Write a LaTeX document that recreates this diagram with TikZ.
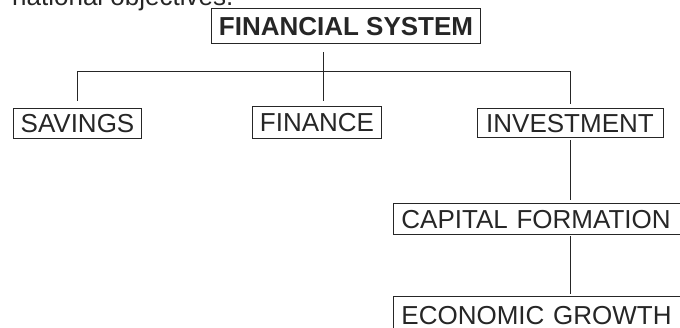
\documentclass[tikz,border=0pt]{standalone}
\usepackage{fontspec}
\setmainfont{Liberation Sans}
\usepackage{tikz}
\usetikzlibrary{positioning,calc}
\definecolor{ink}{HTML}{262626}
\tikzset{
  box/.style  ={draw=ink, line width=0.9pt, text=ink, inner xsep=7pt, inner ysep=0pt,
                text height=19pt, text depth=0pt,
                font=\fontsize{26pt}{30pt}\selectfont},
  link/.style ={draw=ink, line width=0.9pt},
}

\begin{document}
\begin{tikzpicture}[x=1pt, y=1pt,
  head/.style={box, font=\fontsize{26pt}{30pt}\selectfont\bfseries},
  wide/.style={box, inner xsep=8pt, text width=290pt, align=left}
]
\useasboundingbox (0,0) rectangle (680,-327);

%--- Text cut off above the chart ---
\node[anchor=base west, inner sep=0pt, text=ink,
      font=\fontsize{26pt}{30pt}\selectfont] (intro) at (12,-5) {national objectives.};

%--- Boxes ---
\node[head, minimum height=35pt] (fs) at (346,-25.5) {FINANCIAL SYSTEM};
\node[box, minimum height=30pt] (sav) at (77.5,-123) {SAVINGS};
\node[box, minimum height=32pt] (fin) at (317,-122) {FINANCE};
\node[box, minimum height=29pt, minimum width=186pt] (inv) at (570,-122.5) {INVESTMENT};
\node[wide, minimum height=31pt, anchor=north west] (cf) at (393,-203) {CAPITAL FORMATION};
\node[wide, minimum height=38pt, anchor=north west] (eg) at (393,-296) {ECONOMIC GROWTH};

%--- Connectors ---
\coordinate (bus) at (0,-71);
\draw[link, shorten <=9pt, shorten >=5pt]
  ([xshift=-23pt]fs.south) -- ([xshift=-23pt]fs.south |- fin.north);
\draw[link, shorten <=7pt, shorten >=4pt]
  (sav.north) -- (sav.north |- bus) -- (inv.north |- bus) -- (inv.north);
\draw[link, shorten <=3pt, shorten >=3pt] (inv.south) -- (inv.south |- cf.north);
\draw[link, shorten <=1pt, shorten >=2pt] (cf.south -| inv.south) -- (eg.north -| inv.south);

\end{tikzpicture}
\end{document}
